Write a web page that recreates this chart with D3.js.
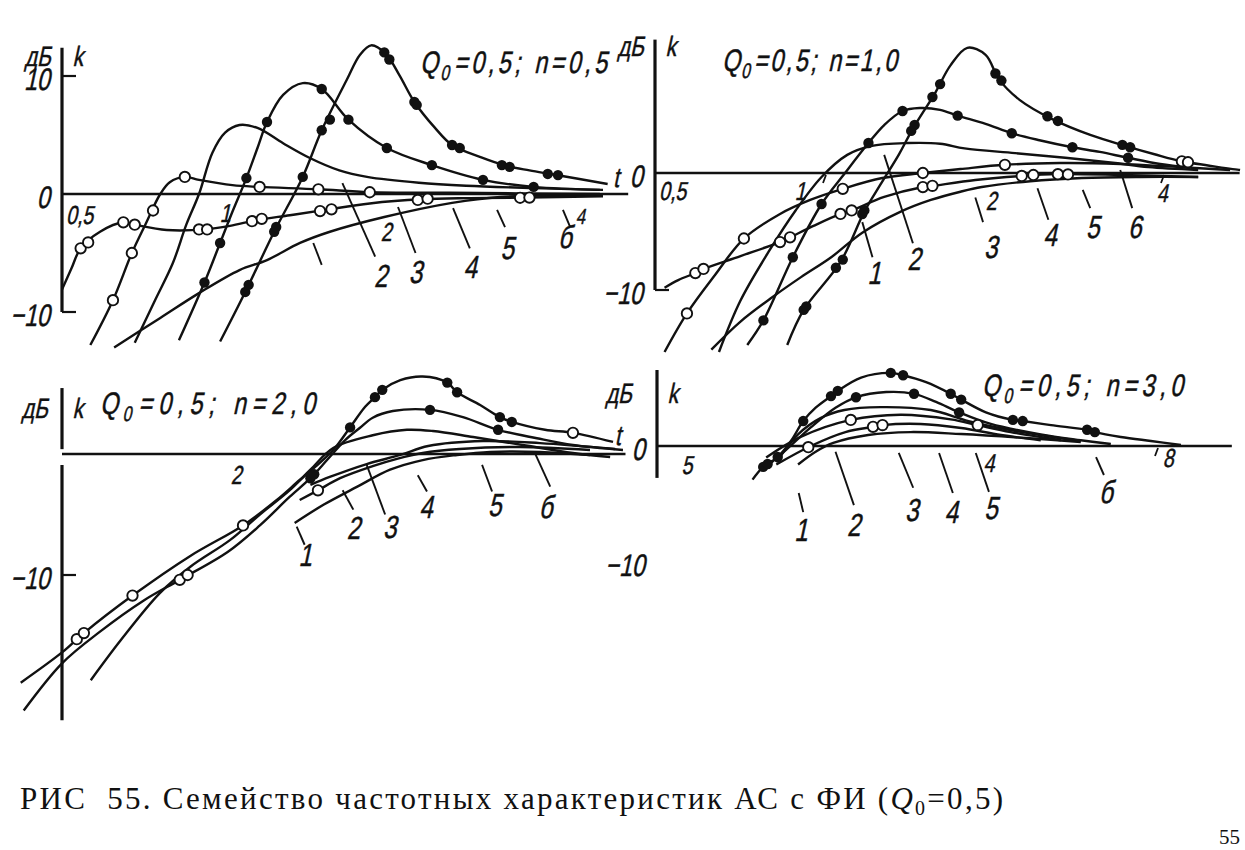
<!DOCTYPE html>
<html>
<head>
<meta charset="utf-8">
<title>РИС 55</title>
<script src="https://cdn.jsdelivr.net/npm/d3@7"></script>
<style>
  body { margin: 0; background: #fff; }
  svg text { font-family: "Liberation Sans", Arial, sans-serif; fill: #111; stroke: #111; stroke-width: 0.5px; }
  svg text.serif { font-family: "Liberation Serif", "Times New Roman", serif; stroke: none; }
</style>
</head>
<body>
<svg id="fig" width="1245" height="850"></svg>
<script>
const width = 1245, height = 850;
const svg = d3.select("#fig").attr("viewBox", `0 0 ${width} ${height}`);

// Q0 и n для каждой панели
const q0 = "0,5";
const nValues = ["0,5", "1,0", "2,0", "3,0"];

// ---- Панель 1 (n = 0,5). Точки кривых: [t, дБ]
const tl1 = [[0.62,-13.0],[0.75,-10.5],[0.88,-8.4],[1.04,-6.45],[1.165,-5.6],[1.335,-4.15],[1.51,-3.2],[1.89,-1.95],[2.5,-0.75],[3.05,-0.25],[4.66,-0.1]];
const tl2 = [[0.5,-8.1],[0.52,-6.3],[0.54,-4.6],[0.585,-3.2],[0.644,-2.4],[0.675,-2.6],[0.77,-3.05],[0.9,-3.0],[1.0,-2.7],[1.12,-2.2],[1.28,-1.8],[1.48,-1.35],[1.78,-0.8],[2.2,-0.45],[2.69,-0.35],[3.4,-0.3],[4.66,-0.2]];
const tl3 = [[0.562,-12.8],[0.617,-9.0],[0.667,-5.0],[0.705,-2.6],[0.75,0],[0.78,1.0],[0.83,1.45],[0.88,1.2],[1.01,0.75],[1.13,0.6],[1.44,0.4],[1.78,0.15],[2.47,0.1],[4.6,0]];
const tl4 = [[0.675,-12.6],[0.734,-9.0],[0.79,-5.85],[0.835,-2.6],[0.88,0],[0.93,3.5],[0.98,5.2],[1.04,5.85],[1.12,5.6],[1.245,4.3],[1.39,3.05],[1.57,2.0],[1.76,1.45],[2.18,0.95],[2.65,0.7],[3.5,0.5],[4.6,0.35]];
const tl5 = [[0.81,-12.4],[0.90,-7.5],[0.96,-4.15],[1.01,-1.5],[1.07,1.35],[1.12,3.9],[1.165,6.1],[1.245,8.4],[1.35,9.4],[1.46,8.9],[1.63,6.3],[1.91,3.9],[2.30,2.45],[2.84,1.2],[3.5,0.6],[4.66,0.35]];
const tl6 = [[0.96,-12.5],[1.065,-8.3],[1.2,-3.2],[1.35,1.45],[1.46,5.4],[1.62,9.7],[1.71,11.8],[1.79,12.6],[1.90,11.9],[2.01,10.1],[2.14,7.8],[2.33,5.6],[2.5,4.15],[2.82,3.1],[3.12,2.4],[3.44,2.0],[3.8,1.65],[4.75,0.85]];
const tlOpen = [[0.54,-4.6],[0.557,-4.1],[0.644,-2.4],[0.675,-2.6],[0.88,-3.0],[0.91,-3.0],[1.095,-2.3],[1.14,-2.1],[1.45,-1.45],[1.52,-1.3],[2.17,-0.5],[2.26,-0.4],[3.31,-0.32],[3.44,-0.3],
  [0.617,-9.0],[0.667,-5.0],[0.728,-1.4],[0.83,1.45],[1.13,0.6],[1.44,0.4],[1.78,0.15]];
const tlFilled = [[0.90,-7.5],[0.96,-4.15],[1.07,1.35],[1.165,6.1],[1.46,8.9],[1.63,6.3],[1.91,3.9],[2.30,2.45],[2.84,1.2],[3.5,0.6],
  [1.065,-8.3],[1.08,-7.7],[1.2,-3.2],[1.21,-2.8],[1.35,1.45],[1.46,5.4],[1.51,6.3],[1.89,12.0],[1.93,11.4],[2.14,7.8],[2.16,7.55],[2.5,4.15],[2.58,3.9],[3.07,2.45],[3.17,2.3],[3.71,1.7],[3.87,1.6]];
// выноски: [номер, t1, дБ1, t2, дБ2]; подписи: [номер, t, дБ]
const tlLeaders = [["",1.41,-4.15,1.46,-6.0],["2",1.59,0.93,1.82,-5.3],["3",2.0,-1.1,2.15,-5.0],["4",2.51,-1.2,2.69,-4.6],["5",3.01,-1.35,3.11,-2.8],["б",3.95,-1.35,4.07,-2.8]];
const tlLabels = [["2",1.88,-6.9],["3",2.17,-6.6],["4",2.72,-6.2],["5",3.17,-4.6],["б",4.02,-3.6]];
const tlXTicks = [[0.5,"0,5"],[1,"1"],[2,"2"],[4,"4"]];
const tlYLabels = [[10,"10"],[0,"0"],[-10,"−10"]];

// ---- Панель 2 (n = 1,0)
const tr1 = [[0.63,-15.1],[0.71,-12.7],[0.81,-10.6],[0.91,-8.9],[1.03,-7.2],[1.17,-5.1],[1.37,-3.3],[1.55,-2.3],[1.75,-1.6],[1.91,-1.2],[2.33,-0.7],[2.88,-0.43],[3.66,-0.34],[4.64,-0.34]];
const tr2 = [[0.52,-9.8],[0.55,-9.15],[0.59,-8.55],[0.61,-8.2],[0.71,-7.1],[0.835,-5.9],[0.87,-5.5],[0.96,-4.5],[1.07,-3.5],[1.12,-3.2],[1.28,-2.05],[1.50,-1.2],[1.56,-1.1],[1.86,-0.6],[2.25,-0.25],[2.61,-0.1],[3.37,-0.17],[4.64,-0.34]];
const tr3 = [[0.52,-15.3],[0.57,-12.0],[0.64,-8.7],[0.72,-5.6],[0.835,-3.5],[0.945,-2.3],[1.08,-1.35],[1.27,-0.43],[1.50,0.0],[1.75,0.34],[2.10,0.7],[2.63,0.85],[3.37,0.77],[4.31,0.5],[5.29,0.26]];
const tr4 = [[0.65,-15.3],[0.71,-10.9],[0.80,-6.6],[0.89,-3.2],[0.99,-0.34],[1.10,1.55],[1.21,2.3],[1.41,2.56],[1.61,2.5],[1.78,2.1],[2.19,1.7],[2.69,1.3],[3.30,0.85],[3.78,0.5],[4.64,0.26]];
const tr5 = [[0.73,-14.7],[0.78,-12.6],[0.88,-7.2],[0.99,-2.65],[1.09,0],[1.20,2.56],[1.28,4.1],[1.38,5.3],[1.48,5.55],[1.61,5.4],[1.73,4.9],[1.94,4.2],[2.16,3.4],[2.42,2.8],[2.77,2.2],[3.10,1.8],[3.48,1.3],[3.97,0.77],[4.49,0.43]];
const tr6 = [[0.86,-14.7],[0.92,-11.7],[1.07,-7.6],[1.18,-3.3],[1.26,-1.0],[1.36,1.6],[1.44,3.8],[1.58,6.9],[1.68,9.2],[1.80,10.7],[1.94,10.1],[2.05,8.0],[2.23,6.25],[2.55,4.6],[2.98,3.25],[3.45,2.3],[3.88,1.6],[4.34,1.0],[5.51,0.26]];
const trOpen = [[0.59,-8.55],[0.61,-8.2],[0.835,-5.9],[0.87,-5.5],[1.07,-3.5],[1.12,-3.2],[1.50,-1.2],[1.56,-1.1],[2.25,-0.25],[2.36,-0.17],[2.61,-0.1],[2.72,-0.12],
  [0.57,-12.0],[0.72,-5.6],[1.08,-1.35],[1.50,0.0],[2.10,0.7],[4.34,1.0],[4.45,0.92]];
const trFilled = [[0.78,-12.6],[0.88,-7.2],[0.99,-2.65],[1.20,2.56],[1.38,5.3],[1.73,4.9],[2.16,3.4],[2.77,2.2],[3.48,1.3],
  [0.92,-11.7],[0.93,-11.4],[1.05,-8.1],[1.08,-7.4],[1.17,-3.5],[1.18,-3.2],[1.43,3.6],[1.45,4.1],[1.56,6.5],[1.61,7.6],[2.02,8.5],[2.07,7.9],[2.50,4.85],[2.61,4.45],[3.40,2.4],[3.51,2.2]];
const trLeaders = [["1",1.17,-4.2,1.22,-7.2],["2",1.28,1.55,1.44,-6.0],["3",1.86,-2.1,1.92,-4.2],["4",2.40,-1.3,2.51,-4.0],["5",2.89,-1.45,2.98,-3.0],["6",3.37,0.26,3.54,-3.0]];
const trLabels = [["1",1.24,-8.5],["2",1.46,-7.3],["3",2.0,-6.3],["4",2.55,-5.3],["5",3.04,-4.6],["6",3.61,-4.6]];
const trXTicks = [[0.5,"0,5"],[1,"1"],[2,"2"],[4,"4"]];
const trYLabels = [[0,"0"],[-10,"−10"]];

// ---- Панель 3 (n = 2,0)
const bl1 = [[2.50,-5.7],[2.80,-4.2],[3.20,-2.7],[3.64,-1.3],[4.14,-0.5],[4.74,-0.08],[5.40,0.17],[6.57,0.17],[8.0,-0.08]];
const bl2 = [[2.55,-3.8],[2.74,-3.0],[2.99,-2.0],[3.40,-1.0],[3.74,-0.4],[4.14,0.08],[4.79,0.41],[6.07,0.58],[8.0,0.33]];
const bl3 = [[2.66,-2.55],[2.87,-1.9],[3.32,-0.83],[3.79,-0.08],[4.23,0.66],[5.25,1.07],[6.57,0.9],[8.83,0.41]];
const bl4 = [[1.12,-18.7],[1.26,-15.4],[1.47,-11.5],[1.66,-9.3],[1.94,-7.1],[2.18,-5.0],[2.45,-3.0],[2.66,-1.3],[2.91,0.5],[3.40,1.55],[3.89,2.0],[4.31,1.9],[5.05,1.4],[6.14,0.74],[7.48,0.08],[8.66,-0.25]];
const bl5 = [[0.86,-21.2],[1.0,-17.3],[1.16,-14.7],[1.38,-12.1],[1.59,-10.4],[1.92,-8.1],[2.18,-5.9],[2.45,-3.55],[2.66,-2.0],[2.84,-0.5],[3.05,1.15],[3.23,2.15],[3.40,3.0],[3.68,3.55],[4.26,3.65],[4.85,3.05],[5.57,2.0],[6.49,1.3],[7.48,0.74],[9.11,0.33]];
const bl6 = [[0.85,-18.9],[1.0,-16.4],[1.09,-14.8],[1.32,-11.7],[1.66,-8.4],[2.04,-5.9],[2.33,-3.8],[2.55,-2.15],[2.76,-0.74],[2.93,0.5],[3.11,2.2],[3.30,3.9],[3.43,4.7],[3.53,5.3],[3.79,6.1],[4.14,6.4],[4.56,5.9],[4.74,5.1],[5.19,4.05],[5.61,3.05],[5.88,2.65],[6.70,2.0],[7.48,1.75],[8.76,1.0]];
const blOpen = [[1.06,-15.3],[1.09,-14.8],[1.32,-11.7],[1.59,-10.4],[1.64,-10.0],[2.04,-5.9],[2.74,-3.0],[7.48,1.75]];
const blFilled = [[2.66,-2.0],[2.70,-1.67],[3.11,2.2],[3.43,4.7],[3.53,5.3],[4.56,5.9],[4.74,5.1],[5.61,3.05],[5.88,2.65],[4.26,3.65],[5.57,2.0]];
const blLeaders = [["1",2.52,-6.0,2.60,-7.5],["2",3.02,-3.0,3.15,-4.6],["3",3.32,-0.9,3.57,-5.0],["4",4.06,-1.75,4.21,-3.1],["5",5.23,-0.9,5.44,-3.1],["б",6.44,0.08,6.84,-2.7]];
const blLabels = [["1",2.63,-8.35],["2",3.18,-6.1],["3",3.67,-6.0],["4",4.23,-4.4],["5",5.55,-4.2],["б",6.78,-4.4]];
const blXTicks = [[2,"2"]];
const blYLabels = [[-10,"−10"]];

// ---- Панель 4 (n = 3,0)
const br1 = [[1.94,-1.6],[2.08,-0.5],[2.23,0.26],[2.56,0.95],[3.03,1.2],[3.70,1.03],[4.78,0.69],[5.94,0.34]];
const br2 = [[1.78,-1.6],[2.04,0],[2.34,1.2],[2.61,1.65],[2.71,1.8],[3.15,1.9],[3.70,1.55],[4.33,0.95],[5.07,0.5]];
const br3 = [[1.71,-1.0],[1.96,0.78],[2.39,2.25],[2.91,2.7],[3.55,2.3],[3.95,1.8],[4.50,1.2],[5.49,0.5]];
const br4 = [[1.78,-1.4],[1.94,1.0],[2.12,2.4],[2.33,3.1],[2.69,3.35],[3.28,3.1],[3.81,2.15],[4.47,1.4],[5.18,0.86],[5.94,0.43]];
const br5 = [[1.72,-1.7],[1.85,-0.34],[2.04,1.6],[2.25,3.3],[2.44,4.2],[2.75,4.65],[3.07,4.5],[3.35,3.8],[3.67,2.9],[4.16,1.9],[5.07,1.0],[5.94,0.5],[6.69,0.17]];
const br6 = [[1.62,-2.9],[1.69,-1.8],[1.79,-0.95],[1.89,0.5],[1.98,2.15],[2.08,3.3],[2.21,4.3],[2.27,4.75],[2.49,5.9],[2.80,6.3],[2.94,6.1],[3.22,5.5],[3.55,4.5],[3.70,4.0],[4.08,2.9],[4.54,2.25],[4.72,2.15],[5.28,1.8],[6.09,1.4],[6.28,1.2],[6.96,0.78],[7.84,0.43],[8.83,0.09]];
const brOpen = [[2.02,-0.1],[2.39,2.25],[2.61,1.65],[2.71,1.8],[3.95,1.8]];
const brFilled = [[1.69,-1.8],[1.72,-1.55],[1.79,-0.95],[1.98,2.15],[2.21,4.3],[2.27,4.75],[2.80,6.3],[2.94,6.1],[3.55,4.5],[3.70,4.0],[4.54,2.25],[4.72,2.15],[6.09,1.4],[6.28,1.2],[2.44,4.2],[3.07,4.5],[3.67,2.9]];
const brLeaders = [["1",1.945,-4.05,1.98,-5.7],["2",2.25,-0.5,2.42,-5.1],["3",2.89,-0.6,3.06,-3.6],["4",3.39,-0.6,3.58,-4.05],["5",3.92,-0.6,4.13,-3.95],["б",6.31,-0.95,6.51,-2.5]];
const brLabels = [["1",1.98,-7.25],["2",2.44,-6.8],["3",3.07,-5.5],["4",3.59,-5.7],["5",4.2,-5.35],["б",6.62,-3.95]];
const brXTicks = [[1.2,"5"],[4,"4"],[8,"8"]]; // подписи как в оригинале
const brYLabels = [[0,"0"],[-10,"−10"]];

const captionMain = "РИС  55. Семейство частотных характеристик АС с ФИ (";
const pageNumber = "55";

// расположение панелей (tickDx — сдвиг подписей по t, по одной на подпись)
const panels = [
  { n: nValues[0], xDomain: [0.5, 4], xRange: [62, 566], y0: 194, yM10: 312,
    axis: [[12.4, -10]], yTickMarks: [10, -10], xEnd: 5.17, tickDx: [0, -3, -10, 16], tickDy: [21, 19, 38, 22], tickMarks: [],
    curves: [tl1, tl2, tl3, tl4, tl5, tl6], open: tlOpen, filled: tlFilled,
    leaders: tlLeaders, labels: tlLabels, xTicks: tlXTicks, yLabels: tlYLabels, tLabel: [4.96, 1.45],
    title: { x: 420, y: 73, w: 187 }, unit: { right: 53, y: 56 } },
  { n: nValues[1], xDomain: [0.5, 4], xRange: [655, 1162], y0: 173, yM10: 290,
    axis: [[11.4, -10]], yTickMarks: [-10], xEnd: 5.5, tickDx: [0, -22, 0, 2], tickDy: [18, 18, 28, 20], tickMarks: [1, 4],
    curves: [tr1, tr2, tr3, tr4, tr5, tr6], open: trOpen, filled: trFilled,
    leaders: trLeaders, labels: trLabels, xTicks: trXTicks, yLabels: trYLabels, tLabel: null,
    title: { x: 722, y: 71, w: 175 }, unit: { right: 646, y: 46 } },
  { n: nValues[2], xDomain: [1, 4], xRange: [62, 414], y0: 454, yM10: 575,
    axis: [[5.45, 0.4], [-0.9, -22]], yTickMarks: [-10], xEnd: 9.2, tickDx: [0], tickDy: [21], tickMarks: [],
    curves: [bl1, bl2, bl3, bl4, bl5, bl6], open: blOpen, filled: blFilled,
    leaders: blLeaders, labels: blLabels, xTicks: blXTicks, yLabels: blYLabels, tLabel: [9.0, 1.57],
    title: { x: 100, y: 414, w: 215 }, unit: { right: 50, y: 408 } },
  { n: nValues[3], xDomain: [1.11, 8], xRange: [657, 1156], y0: 446, yM10: 562,
    axis: [[6.55, -2.75]], yTickMarks: [], xEnd: 10.8, tickDx: [12, 10, 14], tickDy: [19, 17, 12], tickMarks: [8],
    curves: [br1, br2, br3, br4, br5, br6], open: brOpen, filled: brFilled,
    leaders: brLeaders, labels: brLabels, xTicks: brXTicks, yLabels: brYLabels, tLabel: null,
    title: { x: 982, y: 396, w: 201 }, unit: { right: 634, y: 393 } }
];

const ink = "#111";

// наклонная узкая надпись (как чертёжный шрифт)
function italic(g, px, py, str, size, anchor = "middle") {
  return g.append("text")
    .attr("transform", `translate(${px},${py}) skewX(-12) scale(0.75,1)`)
    .attr("text-anchor", anchor)
    .attr("dominant-baseline", "central")
    .style("font-size", size + "px")
    .text(str);
}

panels.forEach(p => {
  const g = svg.append("g");
  const x = d3.scaleLog().domain(p.xDomain).range(p.xRange);
  const y = d3.scaleLinear().domain([0, -10]).range([p.y0, p.yM10]);
  const ax = p.xRange[0];
  const line = d3.line()
    .x(d => x(d[0]))
    .y(d => y(d[1]))
    .curve(d3.curveCatmullRom.alpha(0.5));

  // ось дБ
  p.axis.forEach(s => g.append("line")
    .attr("x1", ax).attr("x2", ax).attr("y1", y(s[0])).attr("y2", y(s[1]))
    .attr("stroke", ink).attr("stroke-width", 3.2));
  p.yTickMarks.forEach(v => g.append("line")
    .attr("x1", ax).attr("x2", ax + 14).attr("y1", y(v)).attr("y2", y(v))
    .attr("stroke", ink).attr("stroke-width", 2.2));

  // линия 0 дБ (ось t)
  g.append("line")
    .attr("x1", ax).attr("x2", x(p.xEnd)).attr("y1", y(0)).attr("y2", y(0))
    .attr("stroke", ink).attr("stroke-width", 2.5);
  p.tickMarks.forEach(t => g.append("line")
    .attr("x1", x(t) + 2).attr("x2", x(t) - 1).attr("y1", y(0) + 2).attr("y2", y(0) + 10)
    .attr("stroke", ink).attr("stroke-width", 1.8));

  // кривые
  g.selectAll("path.curve").data(p.curves).join("path")
    .attr("class", "curve")
    .attr("d", line)
    .attr("fill", "none")
    .attr("stroke", ink)
    .attr("stroke-width", 2.4);

  // экспериментальные точки
  g.selectAll("circle.open").data(p.open).join("circle")
    .attr("class", "open")
    .attr("cx", d => x(d[0])).attr("cy", d => y(d[1])).attr("r", 5.2)
    .attr("fill", "#fff").attr("stroke", ink).attr("stroke-width", 1.9);
  g.selectAll("circle.filled").data(p.filled).join("circle")
    .attr("class", "filled")
    .attr("cx", d => x(d[0])).attr("cy", d => y(d[1])).attr("r", 5.2)
    .attr("fill", ink);

  // выноски и номера кривых
  g.selectAll("line.leader").data(p.leaders).join("line")
    .attr("class", "leader")
    .attr("x1", d => x(d[1])).attr("y1", d => y(d[2]))
    .attr("x2", d => x(d[3])).attr("y2", d => y(d[4]))
    .attr("stroke", ink).attr("stroke-width", 1.9);
  p.labels.forEach(d => italic(g, x(d[1]), y(d[2]), d[0], 32));

  // подписи осей
  p.xTicks.forEach(([t, s], i) => {
    const first = t === p.xDomain[0];
    italic(g, x(t) + p.tickDx[i] + (first ? 6 : 0), y(0) + p.tickDy[i], s, i === 3 && p.tickMarks.length === 0 ? 22 : 26,
      first ? "start" : "middle");
  });
  p.yLabels.forEach(([v, s]) => italic(g, ax - 10, y(v) + 3, s, 31, "end"));
  italic(g, p.unit.right, p.unit.y, "дБ", 28, "end");
  italic(g, ax + 18, p.unit.y, "k", 28);
  if (p.tLabel) italic(g, x(p.tLabel[0]), y(p.tLabel[1]), "t", 28);

  // заголовок панели
  const tt = g.append("text")
    .attr("transform", `translate(${p.title.x},${p.title.y}) skewX(-12) scale(0.75,1)`)
    .attr("textLength", p.title.w / 0.75)
    .attr("lengthAdjust", "spacing")
    .style("font-size", "31px");
  tt.append("tspan").text("Q");
  tt.append("tspan").attr("dy", 7).style("font-size", "21px").text("0");
  tt.append("tspan").attr("dy", -7).text(`=${q0}; n=${p.n}`);
});

// подпись рисунка
const cap = svg.append("text")
  .attr("class", "serif")
  .attr("x", 20).attr("y", 809)
  .attr("textLength", 983).attr("lengthAdjust", "spacing")
  .style("font-size", "31px")
  .style("white-space", "pre");
cap.append("tspan").text(captionMain);
cap.append("tspan").style("font-style", "italic").text("Q");
cap.append("tspan").attr("dy", 6).style("font-size", "20px").text("0");
cap.append("tspan").attr("dy", -6).text(`=${q0})`);

svg.append("text")
  .attr("class", "serif")
  .attr("x", 1219).attr("y", 844)
  .style("font-size", "21px")
  .text(pageNumber);
</script>
</body>
</html>
